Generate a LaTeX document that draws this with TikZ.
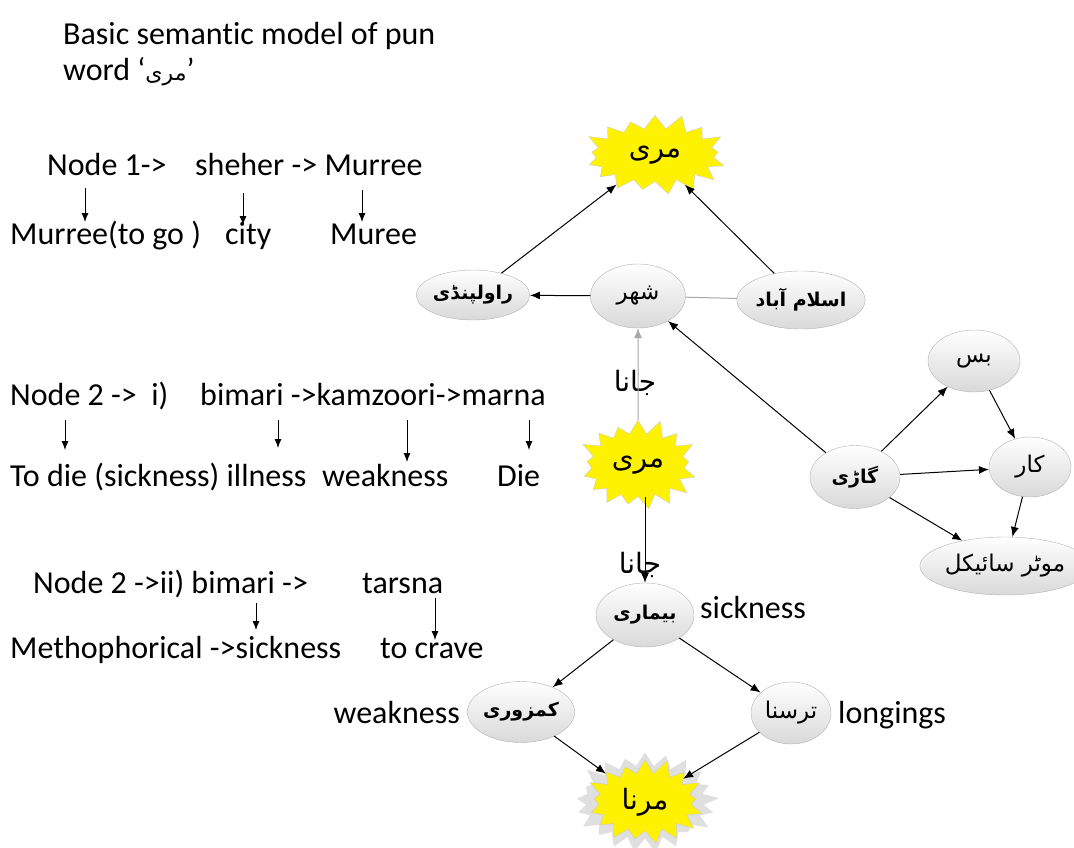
\documentclass[tikz,border=0pt]{standalone}
\usepackage{fontspec}
\setmainfont{Carlito}[Ligatures=CommonOff]
\newfontfamily\urdu[Script=Arabic]{DejaVu Sans}
\TeXXeTstate=1
\usetikzlibrary{shapes.geometric,shapes.symbols,arrows.meta}

\newcommand{\ur}[1]{\beginR #1\endR}

\begin{document}
\begin{tikzpicture}[x=1pt, y=-1pt,
    txt/.style={anchor=base west, inner sep=0pt, font=\fontsize{32}{38}\selectfont},
    ball/.style={ellipse, draw=gray!60, top color=white, bottom color=gray!30,
        inner sep=0pt, font=\urdu\fontsize{23}{26}\selectfont},
    boldball/.style={ball, font=\urdu\bfseries\fontsize{19}{22}\selectfont},
    burst/.style={starburst, starburst points=17, starburst point height=16pt,
        random starburst=37, fill=yellow, draw=gray!40, inner sep=0pt,
        font=\urdu\fontsize{28}{32}\selectfont},
    link/.style={-{Latex[length=10pt,width=8pt]}, line width=1pt},
    down/.style={-{Latex[length=9pt,width=7pt]}, line width=0.9pt},
    jana/.style={inner sep=0pt, font=\urdu\fontsize{28}{32}\selectfont},
]
    \useasboundingbox (0,0) rectangle (1074,847);

    % title
    \node[txt] (title) at (63,44) {Basic semantic model of pun};
    \node[txt] (word) at (63,80) {word ‘{\urdu\fontsize{22}{26}\selectfont\ur{مری}}’};

    % node 1
    \node[txt] (n1) at (47,175) {Node 1->};
    \node[txt] (n1b) at (195,175) {sheher -> Murree};
    \node[txt] (m1) at (10,244) {Murree(to go )};
    \node[txt] (m1b) at (225,244) {city};
    \node[txt] (m1c) at (330,244) {Muree};
    \draw[down] ([yshift=-13pt]n1.base -| 85,0) -- ([yshift=22pt]m1.base -| 85,0);
    \draw[down] ([yshift=-18pt]n1b.base -| 243,0) -- ([yshift=19pt]m1b.base -| 243,0);
    \draw[down] ([yshift=-15pt]n1b.base -| 362,0) -- ([yshift=22pt]m1c.base -| 362,0);

    % node 2 i
    \node[txt] (n2) at (10,405) {Node 2 ->\ \ i)};
    \node[txt] (n2b) at (200,405) {bimari ->kamzoori->marna};
    \node[txt] (m2) at (10,486) {To die (sickness) illness};
    \node[txt] (m2b) at (322,486) {weakness};
    \node[txt] (m2c) at (497,486) {Die};
    \draw[down] ([yshift=-15pt]n2.base -| 65,0) -- ([yshift=36pt]m2.base -| 65,0);
    \draw[down] ([yshift=-15pt]n2b.base -| 278,0) -- ([yshift=38pt]m2.base -| 278,0);
    \draw[down] ([yshift=-15pt]n2b.base -| 407,0) -- ([yshift=24pt]m2b.base -| 407,0);
    \draw[down] ([yshift=-15pt]n2b.base -| 529,0) -- ([yshift=36pt]m2c.base -| 529,0);

    % node 2 ii
    \node[txt] (n3) at (33,593) {Node 2 ->ii) bimari ->};
    \node[txt] (n3b) at (362,593) {tarsna};
    \node[txt] (m3) at (10,658) {Methophorical ->sickness};
    \node[txt] (m3b) at (380,658) {to crave};
    \draw[down] ([yshift=-10pt]n3.base -| 256,0) -- ([yshift=28pt]m3.base -| 256,0);
    \draw[down] ([yshift=-5pt]n3b.base -| 435,0) -- ([yshift=18pt]m3b.base -| 435,0);

    % right graph
    \node[burst, minimum width=150pt, minimum height=85pt] (murree) at (655,155) {\ur{مری}};
    \node[boldball, minimum width=98pt, minimum height=50pt] (rwp) at (473,295) {\ur{راولپنڈی}};
    \node[ball, minimum width=95pt, minimum height=64pt] (shehar) at (638,296) {\ur{شهر}};
    \node[boldball, minimum width=98pt, minimum height=58pt] (isb) at (801,300) {\ur{اسلام آباد}};
    \node[burst, minimum width=125pt, minimum height=95pt] (murree2) at (638,465) {\ur{مری}};
    \node[boldball, minimum width=90pt, minimum height=63pt] (gaari) at (855,477) {\ur{گاڑی}};
    \node[ball, minimum width=92pt, minimum height=62pt] (bus) at (974,361) {\ur{بس}};
    \node[ball, minimum width=82pt, minimum height=60pt] (car) at (1030,467) {\ur{کار}};
    \node[ball, minimum width=122pt, minimum height=58pt] (motor) at (1005,566) {\ur{موٹر سائیکل}};
    \node[boldball, minimum width=98pt, minimum height=64pt] (bimari) at (645,615) {\ur{بیماری}};
    \node[boldball, minimum width=88pt, minimum height=61pt] (kamzori) at (521,712) {\ur{کمزوری}};
    \node[ball, minimum width=80pt, minimum height=62pt] (tarsna) at (791,713) {\ur{ترسنا}};
    \node[burst, starburst points=21, minimum width=150pt, minimum height=105pt, fill=gray!25, draw=none] (glow) at (645,802) {};
    \node[burst, minimum width=125pt, minimum height=90pt] (marna) at (645,802) {\ur{مرنا}};

    \node[txt] (sick) at (700,618) {sickness};
    \node[txt, anchor=base east] (weak) at (460,723) {weakness};
    \node[txt] (long) at (838,723) {longings};
    \node[jana] (jana1) at (635,383) {\ur{جانا}};
    \node[jana] (jana2) at (640,565) {\ur{جانا}};

    \draw[link] (rwp) -- (murree);
    \draw[link] (isb) -- (murree);
    \draw[link] (shehar) -- (rwp);
    \draw[gray!70, line width=1pt] (isb) -- (shehar);
    \draw[link, gray!70] (murree2) -- (shehar);
    \draw[link] (gaari) -- (shehar);
    \draw[link] (gaari) -- (bus);
    \draw[link] (bus) -- (car);
    \draw[link] (gaari) -- (car);
    \draw[link] (car) -- (motor);
    \draw[link] (gaari) -- (motor);
    \draw[link] (murree2.south -| bimari.north) -- (bimari.north);
    \draw[link] (bimari) -- (kamzori);
    \draw[link] (bimari) -- (tarsna);
    \draw[link] (kamzori) -- (marna);
    \draw[link] (tarsna) -- (marna);
\end{tikzpicture}
\end{document}
